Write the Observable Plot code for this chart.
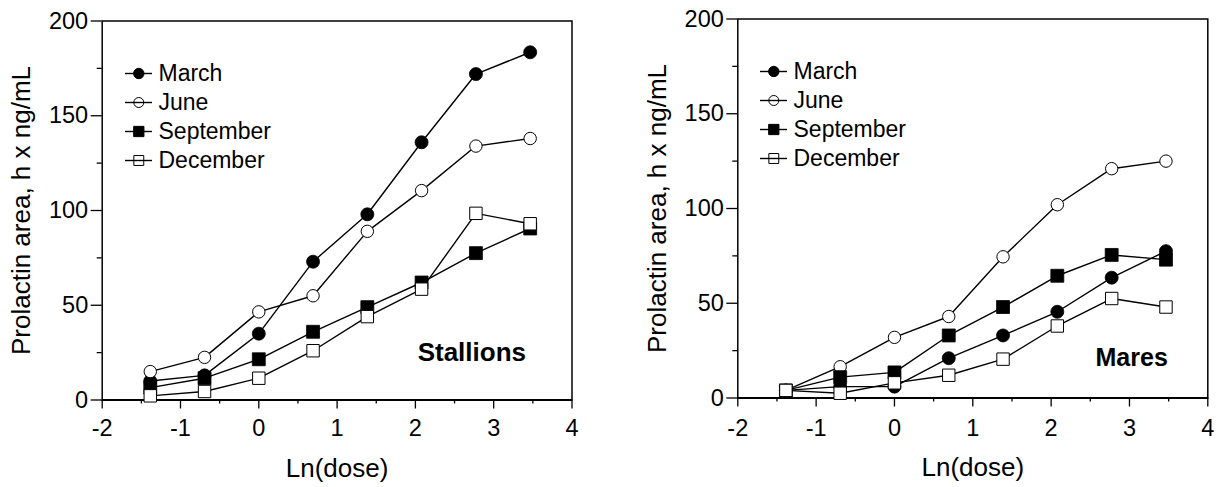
<!DOCTYPE html>
<html>
<head>
<meta charset="utf-8">
<script src="https://cdn.jsdelivr.net/npm/d3@7"></script>
<script src="https://cdn.jsdelivr.net/npm/@observablehq/plot@0.6"></script>
<style>
  html, body { margin: 0; padding: 0; background: #fff; }
  #wrap { position: relative; width: 1218px; height: 487px; overflow: hidden; font-family: "Liberation Sans", Arial, sans-serif; }
  #wrap > div { position: absolute; }
  #wrap svg { background: transparent !important; max-width: none !important; overflow: visible; }
</style>
</head>
<body>
<div id="wrap">
  <div id="left" style="left:0px;top:0px;"></div>
  <div id="right" style="left:618px;top:0px;"></div>
  <div id="legL" style="left:125px;top:61.5px;"></div>
  <div id="legR" style="left:760px;top:59.5px;"></div>
</div>
<script>
// ---- data ----
const lnDose = [-1.386, -0.693, 0, 0.693, 1.386, 2.079, 2.773, 3.466];
const months = ["March", "June", "September", "December"];

const stallionsMarch     = [10, 13, 35, 73, 98, 136, 172, 183.5];
const stallionsJune      = [15, 22.5, 46.5, 55, 89, 110.5, 134, 138];
const stallionsSeptember = [6.5, 11.5, 21.5, 36, 49, 62, 77.5, 90.5];
const stallionsDecember  = [2.2, 4.5, 11.5, 26, 44, 58.5, 98.5, 93];

const maresMarch     = [4, 6, 6, 21, 33, 45.5, 63.5, 77.5];
const maresJune      = [4, 16.5, 32, 43, 74.5, 102, 121, 125];
const maresSeptember = [4, 11, 13.5, 33, 48, 64.5, 75.5, 73];
const maresDecember  = [4, 2.5, 8, 12, 20.5, 38, 52.5, 48];

const yTicks = [0, 50, 100, 150, 200];
const yMinorTicks = [25, 75, 125, 175];
const xTicks = [-2, -1, 0, 1, 2, 3, 4];
const xMinorTicks = [-1.5, -0.5, 0.5, 1.5, 2.5, 3.5];
const xLabel = "Ln(dose)";
const yLabel = "Prolactin area, h x ng/mL";

// ---- styles per series ----
const styleOf = {
  March:     {symbol: "circle", fill: "black", r: 6.5, lr: 5.2},
  June:      {symbol: "circle", fill: "white", r: 6.2, lr: 5.0},
  September: {symbol: "square", fill: "black", r: 7.3, lr: 5.8},
  December:  {symbol: "square", fill: "white", r: 7.0, lr: 5.6}
};
const FONT = "Liberation Sans, Arial, sans-serif";
const TICK_FONT = 23.5;

function panel(seriesValues, opts) {
  const rows = [];
  months.forEach((m, k) => {
    seriesValues[k].forEach((v, i) => rows.push({month: m, x: lnDose[i], y: v}));
  });
  const lineMarks = months.map(m => Plot.line(rows.filter(d => d.month === m), {x: "x", y: "y", stroke: "black", strokeWidth: 1.4}));
  const dotMarks = months.map(m => {
    const s = styleOf[m];
    return Plot.dot(rows.filter(d => d.month === m), {
      x: "x", y: "y", symbol: s.symbol, r: s.r, fill: s.fill, stroke: "black", strokeWidth: s.fill === "white" ? 1 : 0.8
    });
  });
  return Plot.plot({
    width: 600,
    height: 487,
    marginLeft: opts.marginLeft,
    marginRight: opts.marginRight,
    marginTop: opts.marginTop,
    marginBottom: opts.marginBottom,
    style: {fontFamily: FONT, fontSize: TICK_FONT + "px", color: "black", background: "transparent"},
    x: {domain: [-2, 4], axis: null},
    y: {domain: [0, 200], axis: null},
    marks: [
      Plot.axisX({ticks: xTicks, tickSize: 9, text: null, label: null, strokeWidth: 1.3}),
      Plot.axisX({ticks: xMinorTicks, tickSize: 4, text: null, label: null, strokeWidth: 1.3}),
      Plot.axisY({ticks: yTicks, tickSize: 11, text: null, label: null, strokeWidth: 1.3}),
      Plot.axisY({ticks: yMinorTicks, tickSize: 5, text: null, label: null, strokeWidth: 1.3}),
      // tick labels drawn through the scales
      Plot.text(xTicks, {x: d => d, text: d => String(d), frameAnchor: "bottom", dy: opts.xTickDy, fontSize: TICK_FONT, textAnchor: "middle", lineAnchor: "middle"}),
      Plot.text(yTicks, {y: d => d, text: d => String(d), frameAnchor: "left", dx: -14, fontSize: TICK_FONT, textAnchor: "end", lineAnchor: "middle"}),
      Plot.frame({stroke: "black", strokeWidth: 1.5}),
      Plot.ruleY([0], {stroke: "black", strokeWidth: 2.2}),
      ...lineMarks,
      ...dotMarks,
      Plot.text([yLabel], {text: d => d, frameAnchor: "left", dx: opts.yLabelDx, rotate: -90, fontSize: 26, textAnchor: "middle", lineAnchor: "middle"}),
      Plot.text([xLabel], {text: d => d, frameAnchor: "bottom", dy: opts.xLabelDy, fontSize: 26, textAnchor: "middle", lineAnchor: "middle"}),
      Plot.text([opts.title], {text: d => d, frameAnchor: "bottom-right", dx: opts.titleDx, dy: opts.titleDy, fontSize: opts.titleSize, fontWeight: "bold", textAnchor: "end", lineAnchor: "middle"})
    ]
  });
}

function legend() {
  const marks = [];
  months.forEach(m => {
    const s = styleOf[m];
    marks.push(Plot.dot([m], {y: d => d, frameAnchor: "left", dx: 13.3, symbol: s.symbol, r: s.lr, fill: s.fill, stroke: "black", strokeWidth: 1}));
  });
  marks.push(Plot.ruleY(months, {y: d => d, stroke: "black", strokeWidth: 1.4}));
  marks.push(Plot.text(months, {y: d => d, text: d => d, frameAnchor: "right", dx: 6, textAnchor: "start", lineAnchor: "middle", fontSize: 23}));
  return Plot.plot({
    width: 27 + 150,
    height: 10 + 88 + 10,
    marginLeft: 0, marginRight: 150, marginTop: 10, marginBottom: 10,
    style: {fontFamily: FONT, fontSize: "23px", color: "black", background: "transparent"},
    x: {axis: null},
    y: {type: "point", domain: months, padding: 0, axis: null},
    marks
  });
}

document.getElementById("left").append(panel(
  [stallionsMarch, stallionsJune, stallionsSeptember, stallionsDecember],
  {marginLeft: 101.7, marginRight: 28.5, marginTop: 20.5, marginBottom: 87.5, yLabelDx: -81, xLabelDy: 69, xTickDy: 28.5, title: "Stallions", titleDx: -46, titleDy: -47, titleSize: 26}
));
document.getElementById("right").append(panel(
  [maresMarch, maresJune, maresSeptember, maresDecember],
  {marginLeft: 119.3, marginRight: 10.7, marginTop: 18.5, marginBottom: 89.5, yLabelDx: -80, xLabelDy: 70, xTickDy: 30.5, title: "Mares", titleDx: -40, titleDy: -40, titleSize: 25}
));
document.getElementById("legL").append(legend());
document.getElementById("legR").append(legend());
</script>
</body>
</html>
